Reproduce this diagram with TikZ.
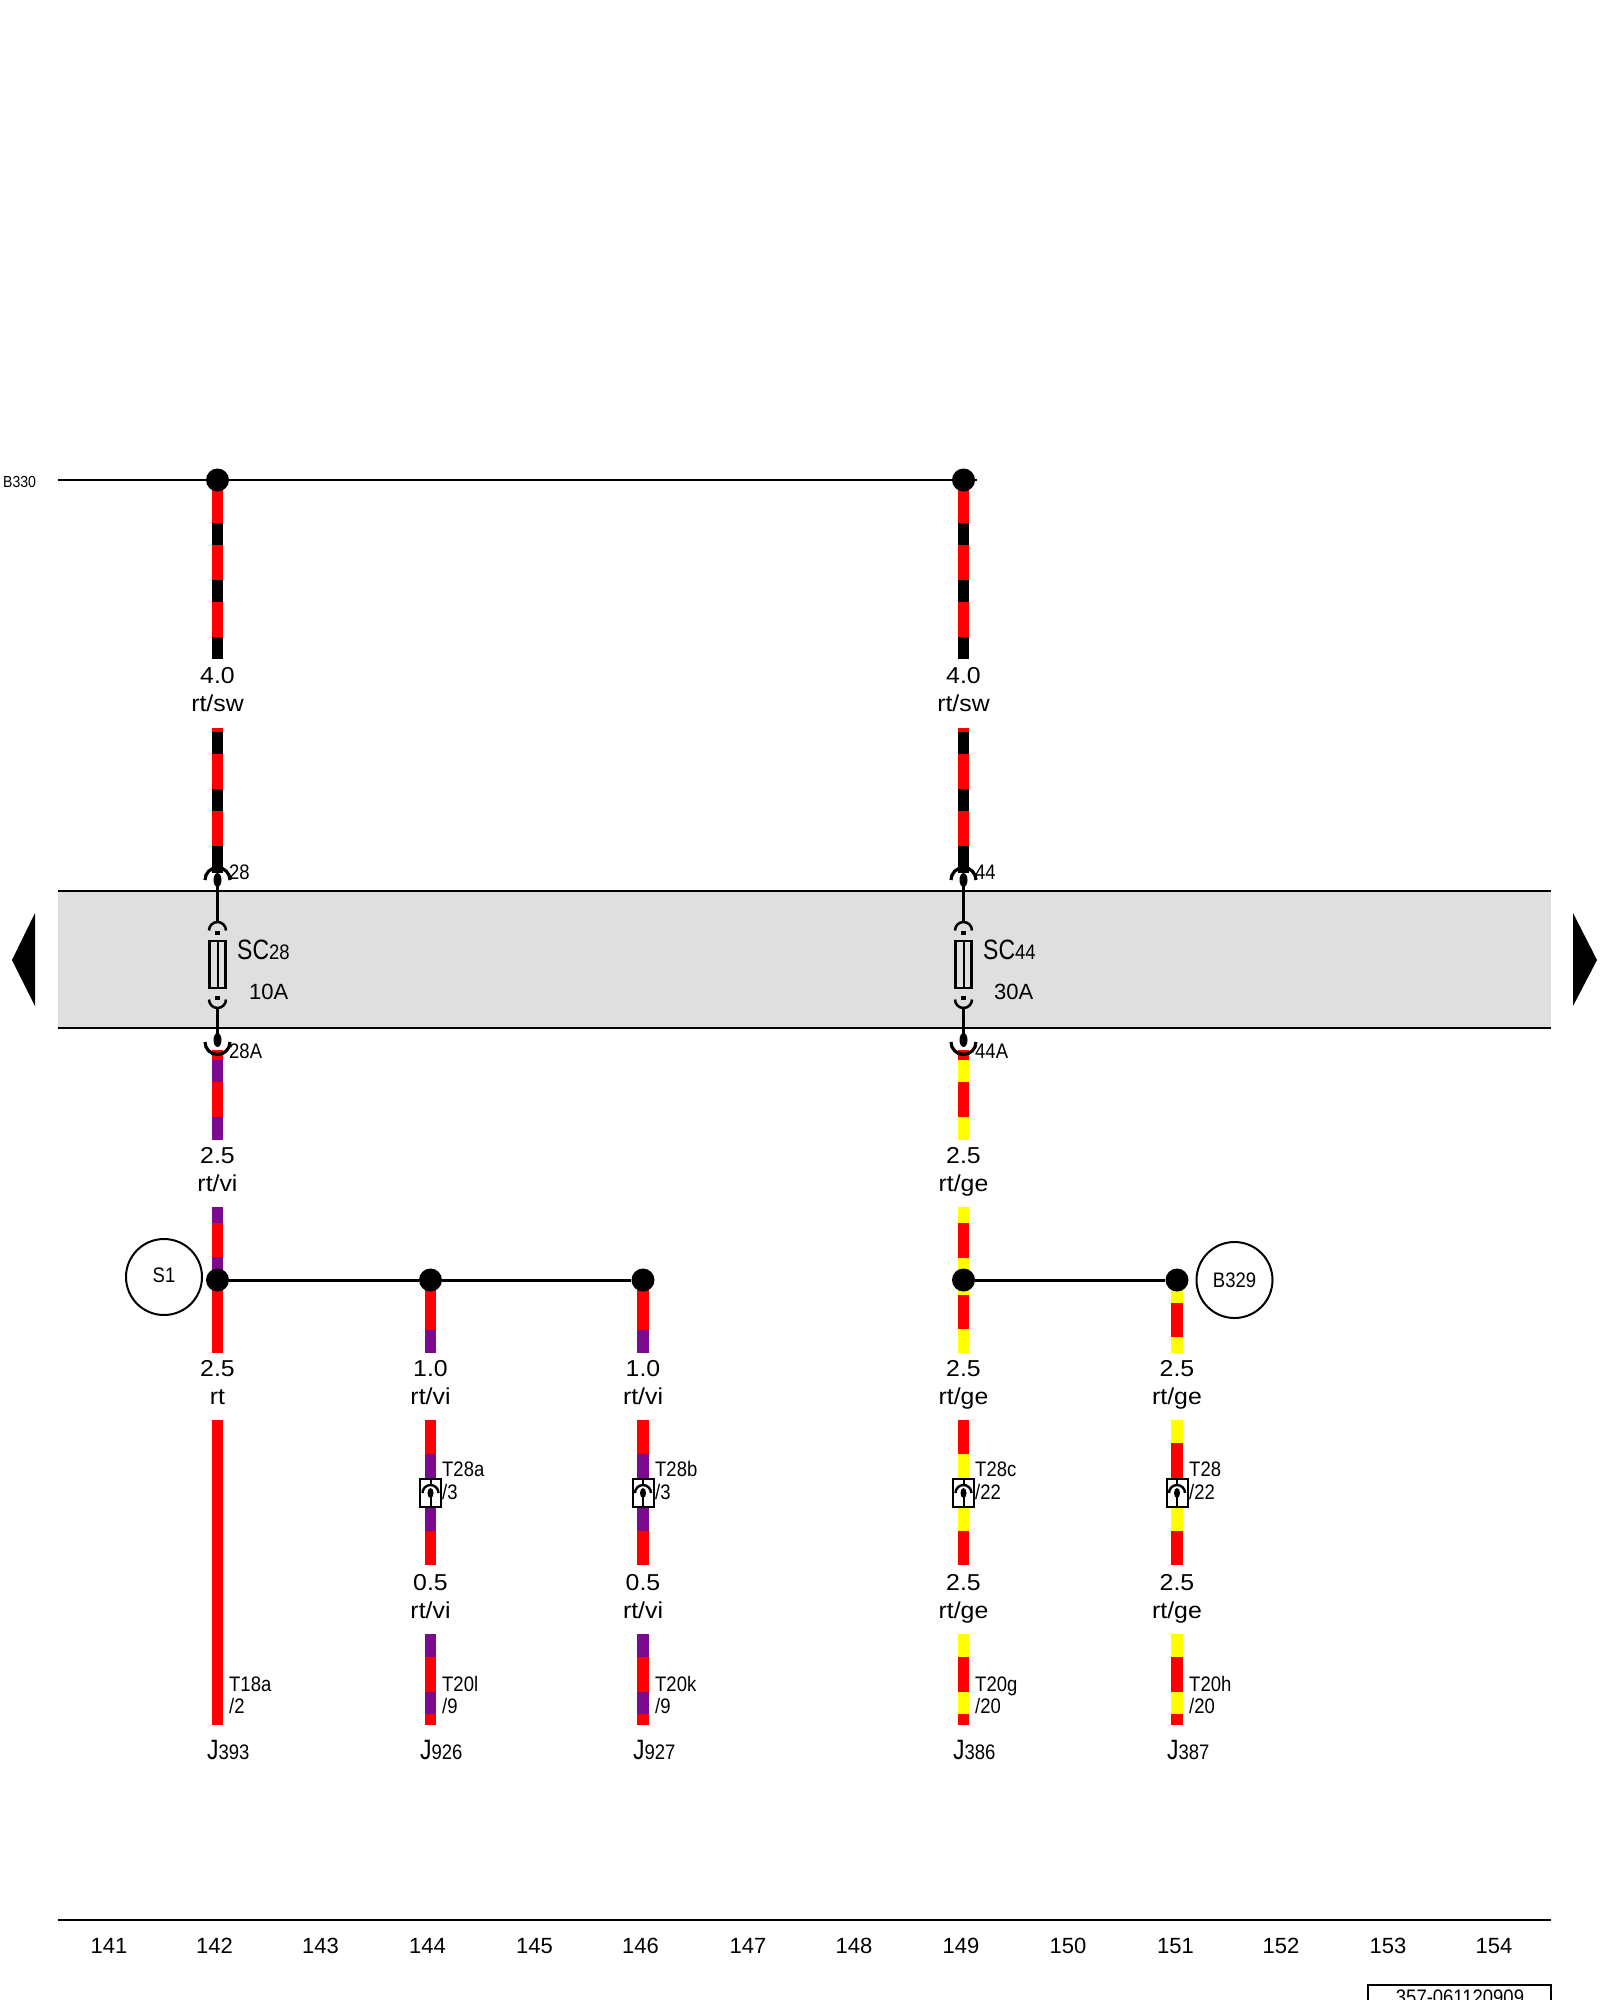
\documentclass[tikz,border=0pt]{standalone}
\usepackage{fontspec}
\setmainfont{Liberation Sans}
\newfontfamily\widefont[FakeStretch=1.08]{Liberation Sans}
\newfontfamily\narrowfont[FakeStretch=0.88]{Liberation Sans}
\newfontfamily\thinfont[FakeStretch=0.82]{Liberation Sans}
\usepackage{xcolor}
\definecolor{wire-red}{HTML}{FF0000}
\definecolor{wire-violet}{HTML}{7B0A8E}
\definecolor{wire-yellow}{HTML}{FFFF00}
\definecolor{fuse-band}{HTML}{DFDFDF}
\newcommand{\devlabel}[2]{{\thinfont\fontsize{28}{30}\selectfont #1}{\narrowfont\fontsize{21}{24}\selectfont #2}}
\tikzset{
    valuetext/.style={anchor=base, inner sep=0pt, font=\widefont\fontsize{23}{26}\selectfont},
    tagtext/.style={anchor=base west, inner sep=0pt, font=\narrowfont\fontsize{21}{24}\selectfont},
    devtext/.style={anchor=base west, inner sep=0pt},
    pagetext/.style={anchor=base, inner sep=0pt, font=\fontsize{22}{26}\selectfont},
    junction/.style={circle, fill=black, inner sep=0pt, minimum size=23pt},
    refcircle/.style={circle, draw, line width=2pt, fill=white, inner sep=0pt, minimum size=76pt, font=\narrowfont\fontsize{21}{24}\selectfont},
    busline/.style={line width=2.2pt},
    tapline/.style={line width=3pt},
    symline/.style={line width=2.5pt},
    fuseblock/.pic={
        \draw[line width=3.2pt] (-12.5, 0) arc[start angle=180, end angle=360, radius=12.5];
        \fill (0, 0) ellipse [x radius=4, y radius=7];
        \draw[symline] (0, 0) -- (0, 43);
        \draw[line width=2.5pt] (-8.5, 50.5) arc[start angle=180, end angle=360, radius=8.5];
        \fill (-2.5, 51) rectangle (2.5, 55);
        \draw[symline] (-8, 61) rectangle (8, 108);
        \draw[line width=2pt] (0, 61) -- (0, 108);
        \fill (-2.5, 116) rectangle (2.5, 120);
        \draw[line width=2.5pt] (-8.5, 119.5) arc[start angle=180, end angle=0, radius=8.5];
        \draw[symline] (0, 128) -- (0, 162);
        \fill (0, 160) ellipse [x radius=4, y radius=7];
        \draw[line width=3.2pt] (-12.5, 162) arc[start angle=180, end angle=0, radius=12.5];
    },
    inlineplug/.pic={
        \draw[line width=2pt, fill=white] (-10.5, 0) rectangle (10.5, 28);
        \draw[line width=2pt] (0, 0) -- (0, 6);
        \draw[line width=2.4pt] (-8, 14) arc[start angle=180, end angle=360, radius=8];
        \fill (0, 14) ellipse [x radius=3, y radius=5];
        \draw[line width=2pt] (0, 14) -- (0, 28);
    }
}

\begin{document}
\begin{tikzpicture}[x=1pt, y=-1pt]

    \useasboundingbox (0, 0) rectangle (1600, 2000);
    \clip (0, 0) rectangle (1600, 2000);

    % Fuse band
    \fill[fuse-band] (58, 891) rectangle (1551, 1028);
    \draw[symline] (58, 891) -- (1551, 891);
    \draw[symline] (58, 1028) -- (1551, 1028);
    \fill (35, 913) -- (35, 1006) -- (12, 960) -- cycle;
    \fill (1573, 913) -- (1573, 1006) -- (1597, 960) -- cycle;

    % Wire 142, from the bus to the fuse
    \fill[wire-red] (211.75, 480) rectangle (223.25, 659);
    \fill[black] (211.75, 523) rectangle (223.25, 545);
    \fill[black] (211.75, 580) rectangle (223.25, 602);
    \fill[black] (211.75, 637) rectangle (223.25, 659);
    \fill[wire-red] (211.75, 728) rectangle (223.25, 873);
    \fill[black] (211.75, 732) rectangle (223.25, 754);
    \fill[black] (211.75, 789) rectangle (223.25, 811);
    \fill[black] (211.75, 846) rectangle (223.25, 873);

    % Wire 149, from the bus to the fuse
    \fill[wire-red] (957.75, 480) rectangle (969.25, 659);
    \fill[black] (957.75, 523) rectangle (969.25, 545);
    \fill[black] (957.75, 580) rectangle (969.25, 602);
    \fill[black] (957.75, 637) rectangle (969.25, 659);
    \fill[wire-red] (957.75, 728) rectangle (969.25, 873);
    \fill[black] (957.75, 732) rectangle (969.25, 754);
    \fill[black] (957.75, 789) rectangle (969.25, 811);
    \fill[black] (957.75, 846) rectangle (969.25, 873);

    % Wire 142, below the fuse
    \fill[wire-red] (211.75, 1050) rectangle (223.25, 1140);
    \fill[wire-violet] (211.75, 1060) rectangle (223.25, 1082);
    \fill[wire-violet] (211.75, 1117) rectangle (223.25, 1140);
    \fill[wire-red] (211.75, 1207) rectangle (223.25, 1353);
    \fill[wire-violet] (211.75, 1207) rectangle (223.25, 1223);
    \fill[wire-violet] (211.75, 1257) rectangle (223.25, 1280);
    \fill[wire-red] (211.75, 1420) rectangle (223.25, 1725);

    % Wire 149, below the fuse
    \fill[wire-red] (957.75, 1050) rectangle (969.25, 1140);
    \fill[wire-yellow] (957.75, 1060) rectangle (969.25, 1082);
    \fill[wire-yellow] (957.75, 1117) rectangle (969.25, 1140);
    \fill[wire-red] (957.75, 1207) rectangle (969.25, 1353);
    \fill[wire-yellow] (957.75, 1207) rectangle (969.25, 1223);
    \fill[wire-yellow] (957.75, 1258) rectangle (969.25, 1295);
    \fill[wire-yellow] (957.75, 1329) rectangle (969.25, 1353);
    \fill[wire-red] (957.75, 1420) rectangle (969.25, 1565);
    \fill[wire-yellow] (957.75, 1454) rectangle (969.25, 1531);
    \fill[wire-red] (957.75, 1634) rectangle (969.25, 1725);
    \fill[wire-yellow] (957.75, 1634) rectangle (969.25, 1657);
    \fill[wire-yellow] (957.75, 1692) rectangle (969.25, 1714);

    % Wire 144
    \fill[wire-red] (424.75, 1280) rectangle (436.25, 1353);
    \fill[wire-violet] (424.75, 1330) rectangle (436.25, 1353);
    \fill[wire-red] (424.75, 1420) rectangle (436.25, 1565);
    \fill[wire-violet] (424.75, 1454) rectangle (436.25, 1531);
    \fill[wire-red] (424.75, 1634) rectangle (436.25, 1725);
    \fill[wire-violet] (424.75, 1634) rectangle (436.25, 1657);
    \fill[wire-violet] (424.75, 1692) rectangle (436.25, 1714);

    % Wire 146
    \fill[wire-red] (637.25, 1280) rectangle (648.75, 1353);
    \fill[wire-violet] (637.25, 1330) rectangle (648.75, 1353);
    \fill[wire-red] (637.25, 1420) rectangle (648.75, 1565);
    \fill[wire-violet] (637.25, 1454) rectangle (648.75, 1531);
    \fill[wire-red] (637.25, 1634) rectangle (648.75, 1725);
    \fill[wire-violet] (637.25, 1634) rectangle (648.75, 1657);
    \fill[wire-violet] (637.25, 1692) rectangle (648.75, 1714);

    % Wire 151
    \fill[wire-yellow] (1171.25, 1280) rectangle (1182.75, 1353);
    \fill[wire-red] (1171.25, 1303) rectangle (1182.75, 1337);
    \fill[wire-yellow] (1171.25, 1420) rectangle (1182.75, 1531);
    \fill[wire-red] (1171.25, 1443) rectangle (1182.75, 1490);
    \fill[wire-red] (1171.25, 1531) rectangle (1182.75, 1565);
    \fill[wire-red] (1171.25, 1634) rectangle (1182.75, 1725);
    \fill[wire-yellow] (1171.25, 1634) rectangle (1182.75, 1657);
    \fill[wire-yellow] (1171.25, 1692) rectangle (1182.75, 1714);

    % Bus and tap lines
    \coordinate (busW) at (58, 480);
    \coordinate (busE) at (977, 480);
    \node[junction] (busA) at (217.5, 480) {};
    \node[junction] (busB) at (963.5, 480) {};
    \draw[busline] (busW) -- (busA) -- (busB) -- (busE);

    \node[junction] (tapA) at (217.5, 1280) {};
    \node[junction] (tapB) at (430.5, 1280) {};
    \node[junction] (tapC) at (643, 1280) {};
    \draw[tapline] (tapA) -- (tapB) -- (tapC);

    \node[junction] (tapD) at (963.5, 1280) {};
    \node[junction] (tapE) at (1177, 1280) {};
    \draw[tapline] (tapD) -- (tapE);

    \node[refcircle] (refS1) at (164, 1277) {\raisebox{3pt}{S1}};
    \node[refcircle] (refB329) at (1234.5, 1280) {B329};

    % Fuses
    \pic at (217.5, 880) {fuseblock};
    \pic at (963.5, 880) {fuseblock};

    % Inline plugs
    \pic at (430.5, 1479) {inlineplug};
    \pic at (643, 1479) {inlineplug};
    \pic at (963.5, 1479) {inlineplug};
    \pic at (1177, 1479) {inlineplug};

    % Wire sizes and colours
    \node[valuetext] (sizeA) at (217.5, 683) {4.0};
    \node[valuetext] (colA) at (217.5, 711) {rt/sw};
    \node[valuetext] (sizeB) at (963.5, 683) {4.0};
    \node[valuetext] (colB) at (963.5, 711) {rt/sw};

    \node[valuetext] (sizeC) at (217.5, 1163) {2.5};
    \node[valuetext] (colC) at (217.5, 1191) {rt/vi};
    \node[valuetext] (sizeD) at (963.5, 1163) {2.5};
    \node[valuetext] (colD) at (963.5, 1191) {rt/ge};

    \node[valuetext] (sizeE) at (217.5, 1376) {2.5};
    \node[valuetext] (colE) at (217.5, 1404) {rt};
    \node[valuetext] (sizeF) at (430.5, 1376) {1.0};
    \node[valuetext] (colF) at (430.5, 1404) {rt/vi};
    \node[valuetext] (sizeG) at (643, 1376) {1.0};
    \node[valuetext] (colG) at (643, 1404) {rt/vi};
    \node[valuetext] (sizeH) at (963.5, 1376) {2.5};
    \node[valuetext] (colH) at (963.5, 1404) {rt/ge};
    \node[valuetext] (sizeI) at (1177, 1376) {2.5};
    \node[valuetext] (colI) at (1177, 1404) {rt/ge};

    \node[valuetext] (sizeJ) at (430.5, 1590) {0.5};
    \node[valuetext] (colJ) at (430.5, 1618) {rt/vi};
    \node[valuetext] (sizeK) at (643, 1590) {0.5};
    \node[valuetext] (colK) at (643, 1618) {rt/vi};
    \node[valuetext] (sizeL) at (963.5, 1590) {2.5};
    \node[valuetext] (colL) at (963.5, 1618) {rt/ge};
    \node[valuetext] (sizeM) at (1177, 1590) {2.5};
    \node[valuetext] (colM) at (1177, 1618) {rt/ge};

    % Fuse labels
    \node[devtext] (fuseA) at (237, 959) {{\thinfont\fontsize{28}{30}\selectfont SC}{\narrowfont\fontsize{21}{24}\selectfont 28}};
    \node[devtext] (ampA) at (249, 999) {\fontsize{22}{26}\selectfont 10A};
    \node[devtext] (fuseB) at (983, 959) {{\thinfont\fontsize{28}{30}\selectfont SC}{\narrowfont\fontsize{21}{24}\selectfont 44}};
    \node[devtext] (ampB) at (994, 999) {\fontsize{22}{26}\selectfont 30A};
    \node[tagtext] (pinA) at (229, 879) {28};
    \node[tagtext] (pinB) at (975, 879) {44};
    \node[tagtext] (pinC) at (229, 1058) {28A};
    \node[tagtext] (pinD) at (975, 1058) {44A};

    % Plug labels
    \node[tagtext] (plugA) at (442, 1476.5) {T28a};
    \node[tagtext] (plugAp) at (442, 1499) {/3};
    \node[tagtext] (plugB) at (655, 1476.5) {T28b};
    \node[tagtext] (plugBp) at (655, 1499) {/3};
    \node[tagtext] (plugC) at (975, 1476.5) {T28c};
    \node[tagtext] (plugCp) at (975, 1499) {/22};
    \node[tagtext] (plugD) at (1189, 1476.5) {T28};
    \node[tagtext] (plugDp) at (1189, 1499) {/22};

    % Control units
    \node[tagtext] (termA) at (229, 1691) {T18a};
    \node[tagtext] (termAp) at (229, 1713) {/2};
    \node[tagtext] (termB) at (442, 1691) {T20l};
    \node[tagtext] (termBp) at (442, 1713) {/9};
    \node[tagtext] (termC) at (655, 1691) {T20k};
    \node[tagtext] (termCp) at (655, 1713) {/9};
    \node[tagtext] (termD) at (975, 1691) {T20g};
    \node[tagtext] (termDp) at (975, 1713) {/20};
    \node[tagtext] (termE) at (1189, 1691) {T20h};
    \node[tagtext] (termEp) at (1189, 1713) {/20};

    \node[devtext] (unitA) at (207, 1759) {\devlabel{J}{393}};
    \node[devtext] (unitB) at (420, 1759) {\devlabel{J}{926}};
    \node[devtext] (unitC) at (633, 1759) {\devlabel{J}{927}};
    \node[devtext] (unitD) at (953, 1759) {\devlabel{J}{386}};
    \node[devtext] (unitE) at (1167, 1759) {\devlabel{J}{387}};

    \node[tagtext, font=\narrowfont\fontsize{16}{20}\selectfont] (busName) at (3, 487) {B330};

    % Page footer
    \draw[symline] (58, 1920) -- (1551, 1920);
    \node[pagetext] (pageA) at (109, 1953) {141};
    \node[pagetext] (pageB) at (214.5, 1953) {142};
    \node[pagetext] (pageC) at (320.5, 1953) {143};
    \node[pagetext] (pageD) at (427.5, 1953) {144};
    \node[pagetext] (pageE) at (534.5, 1953) {145};
    \node[pagetext] (pageF) at (640.5, 1953) {146};
    \node[pagetext] (pageG) at (748, 1953) {147};
    \node[pagetext] (pageH) at (854, 1953) {148};
    \node[pagetext] (pageI) at (961, 1953) {149};
    \node[pagetext] (pageJ) at (1068, 1953) {150};
    \node[pagetext] (pageK) at (1175.5, 1953) {151};
    \node[pagetext] (pageL) at (1281, 1953) {152};
    \node[pagetext] (pageM) at (1388, 1953) {153};
    \node[pagetext] (pageN) at (1494, 1953) {154};

    \draw[symline] (1368, 2010) -- (1368, 1985) -- (1551, 1985) -- (1551, 2010);
    \node[pagetext, font=\narrowfont\fontsize{21}{25}\selectfont] (drawingNo) at (1460, 2004) {357-061120909};

\end{tikzpicture}
\end{document}
